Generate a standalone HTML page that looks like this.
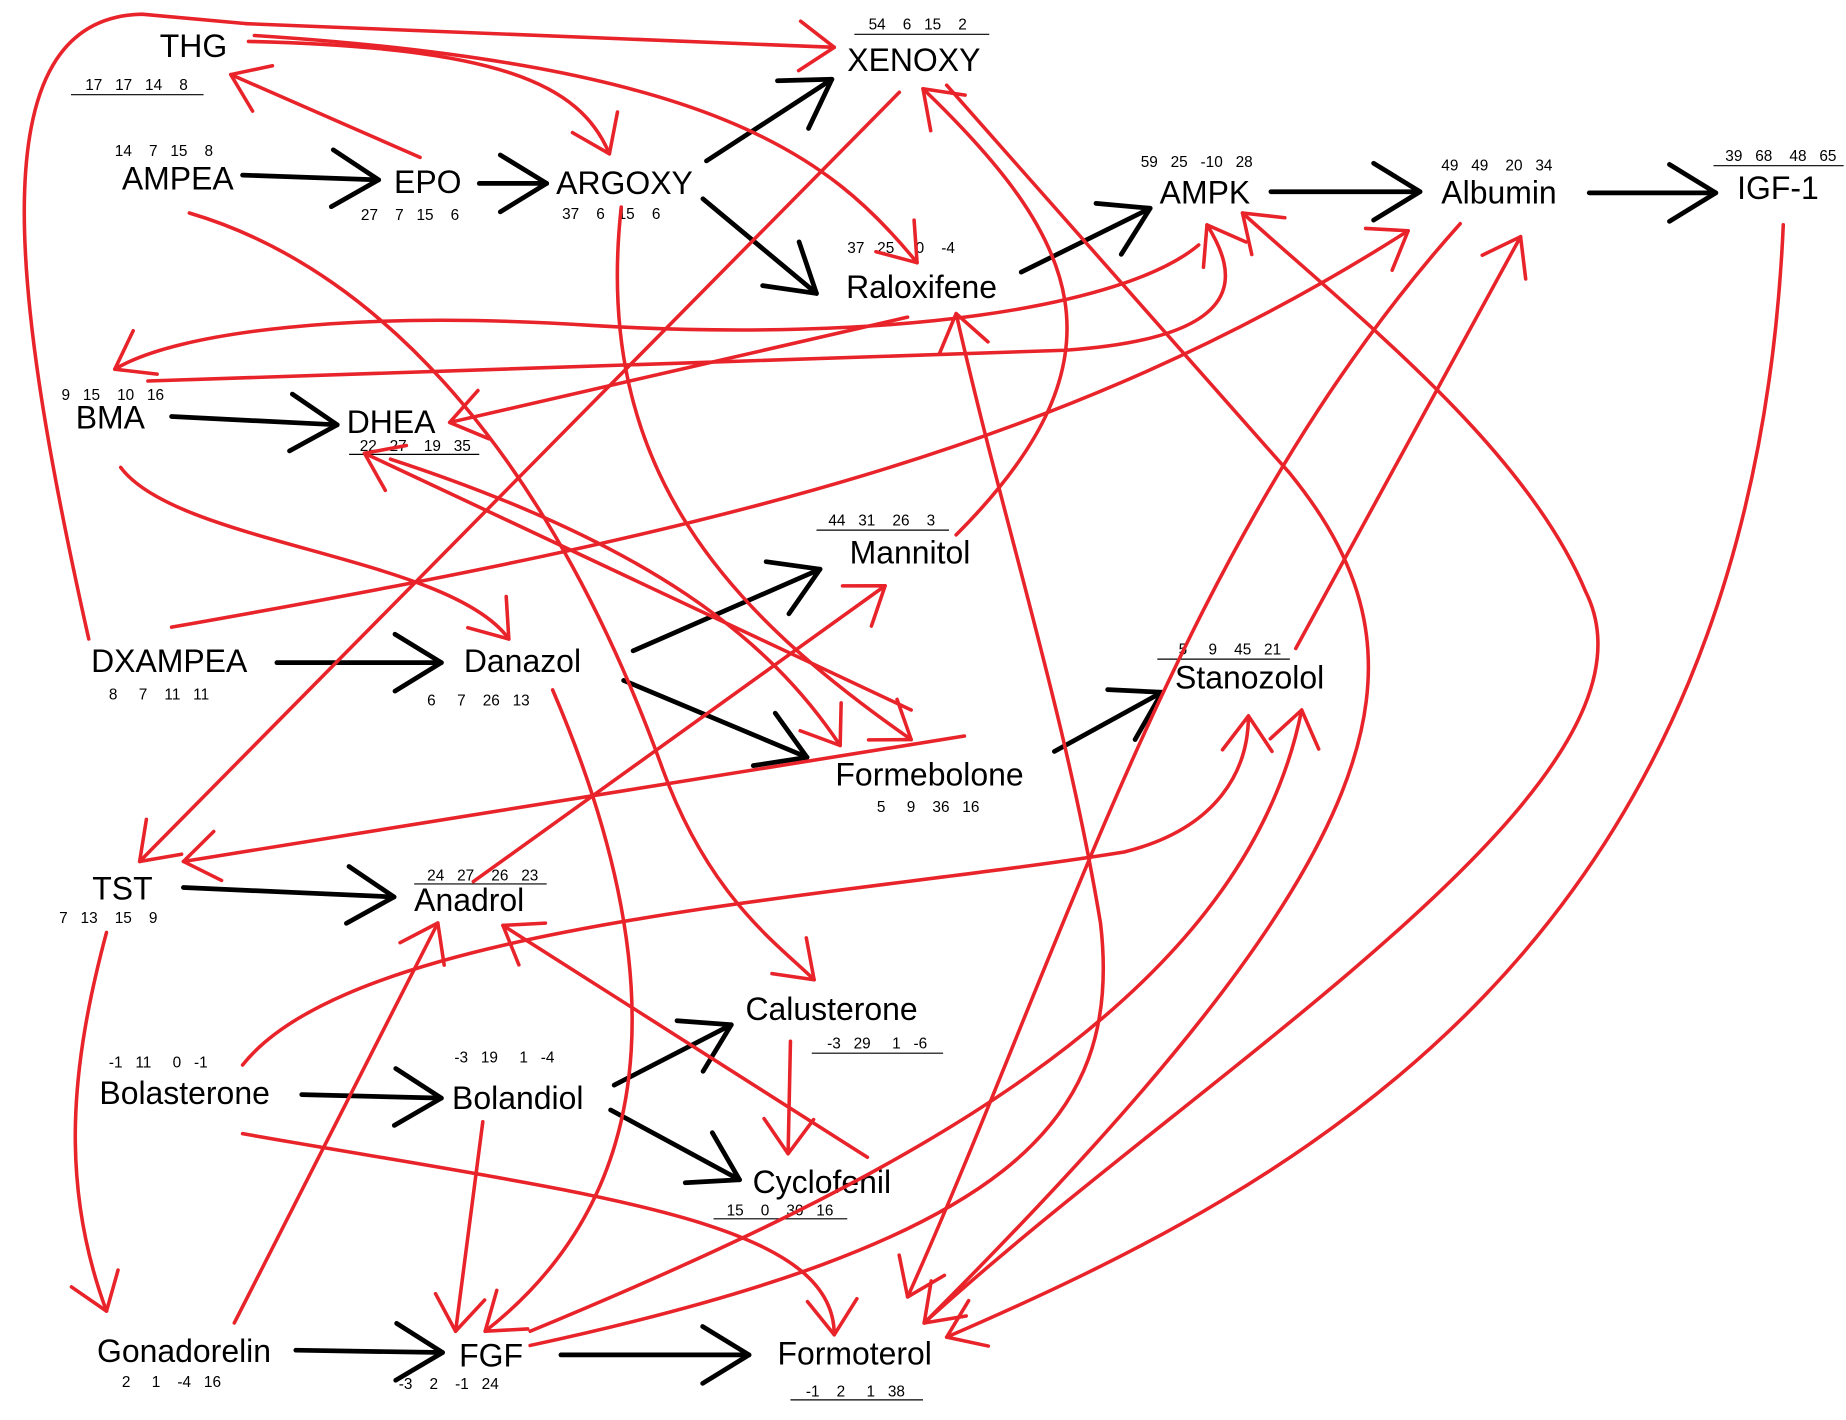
<!DOCTYPE html>
<html><head><meta charset="utf-8">
<style>
html,body{margin:0;padding:0;background:#fff;}
svg{display:block;}
.n{font-family:"Liberation Sans",sans-serif;font-size:27px;fill:#000;}
.s{font-family:"Liberation Sans",sans-serif;font-size:13px;fill:#000;}
.b{stroke:#000;stroke-width:4;fill:none;stroke-linecap:round;stroke-linejoin:round;}
.r{stroke:#e8232a;stroke-width:3;fill:none;stroke-linecap:round;stroke-linejoin:round;}
.u{stroke:#000;stroke-width:1;}
</style></head>
<body>
<svg id="g" width="1846" height="1420" viewBox="0 0 1560 1200" xmlns="http://www.w3.org/2000/svg">
<text class="n" x="135" y="48">THG</text>
<text class="s" x="72" y="76" xml:space="preserve">17   17   14    8</text><line class="u" x1="60" y1="80" x2="172" y2="80"/>
<text class="n" x="103" y="160">AMPEA</text>
<text class="s" x="97" y="132" xml:space="preserve">14    7   15    8</text>
<text class="n" x="333" y="163">EPO</text>
<text class="s" x="305" y="186" xml:space="preserve">27    7   15    6</text>
<text class="n" x="470" y="164">ARGOXY</text>
<text class="s" x="475" y="185" xml:space="preserve">37    6   15    6</text>
<text class="n" x="716" y="60">XENOXY</text>
<text class="s" x="734" y="25" xml:space="preserve">54    6   15    2</text><line class="u" x1="722" y1="29" x2="836" y2="29"/>
<text class="n" x="980" y="172">AMPK</text>
<text class="s" x="964" y="141" xml:space="preserve">59   25   -10   28</text>
<text class="n" x="1218" y="172">Albumin</text>
<text class="s" x="1218" y="144" xml:space="preserve">49   49    20   34</text>
<text class="n" x="1468" y="168">IGF-1</text>
<text class="s" x="1458" y="136" xml:space="preserve">39   68    48   65</text><line class="u" x1="1448" y1="140" x2="1558" y2="140"/>
<text class="n" x="715" y="252">Raloxifene</text>
<text class="s" x="716" y="214" xml:space="preserve">37   25     0    -4</text>
<text class="n" x="64" y="362">BMA</text>
<text class="s" x="52" y="338" xml:space="preserve">9   15    10   16</text>
<text class="n" x="293" y="366">DHEA</text>
<text class="s" x="304" y="381" xml:space="preserve">22   27    19   35</text><line class="u" x1="295" y1="384" x2="405" y2="384"/>
<text class="n" x="718" y="476">Mannitol</text>
<text class="s" x="700" y="444" xml:space="preserve">44   31    26    3</text><line class="u" x1="690" y1="448" x2="802" y2="448"/>
<text class="n" x="77" y="568">DXAMPEA</text>
<text class="s" x="92" y="591" xml:space="preserve">8     7    11   11</text>
<text class="n" x="392" y="568">Danazol</text>
<text class="s" x="361" y="596" xml:space="preserve">6     7    26   13</text>
<text class="n" x="993" y="582">Stanozolol</text>
<text class="s" x="996" y="553" xml:space="preserve">5     9    45   21</text><line class="u" x1="978" y1="557" x2="1090" y2="557"/>
<text class="n" x="706" y="664">Formebolone</text>
<text class="s" x="741" y="686" xml:space="preserve">5     9    36   16</text>
<text class="n" x="78" y="760">TST</text>
<text class="s" x="50" y="780" xml:space="preserve">7   13    15    9</text>
<text class="n" x="350" y="770">Anadrol</text>
<text class="s" x="361" y="744" xml:space="preserve">24   27    26   23</text><line class="u" x1="350" y1="747" x2="462" y2="747"/>
<text class="n" x="630" y="862">Calusterone</text>
<text class="s" x="699" y="886" xml:space="preserve">-3   29     1   -6</text><line class="u" x1="686" y1="890" x2="797" y2="890"/>
<text class="n" x="84" y="933">Bolasterone</text>
<text class="s" x="92" y="902" xml:space="preserve">-1   11     0   -1</text>
<text class="n" x="382" y="937">Bolandiol</text>
<text class="s" x="384" y="898" xml:space="preserve">-3   19     1   -4</text>
<text class="n" x="636" y="1008">Cyclofenil</text>
<text class="s" x="614" y="1027" xml:space="preserve">15    0    30   16</text><line class="u" x1="603" y1="1030" x2="716" y2="1030"/>
<text class="n" x="82" y="1151">Gonadorelin</text>
<text class="s" x="103" y="1172" xml:space="preserve">2     1    -4   16</text>
<text class="n" x="388" y="1155">FGF</text>
<text class="s" x="337" y="1174" xml:space="preserve">-3    2    -1   24</text>
<text class="n" x="657" y="1153">Formoterol</text>
<text class="s" x="681" y="1180" xml:space="preserve">-1    2     1   38</text><line class="u" x1="668" y1="1183" x2="780" y2="1183"/>
</svg>
<script>
(function(){
var svg=document.getElementById('g');var NS='http://www.w3.org/2000/svg';
function add(d,cls,head,ang){
 var p=document.createElementNS(NS,'path');p.setAttribute('d',d);p.setAttribute('class',cls);svg.appendChild(p);
 if(!head)return;
 var L=p.getTotalLength();var e=p.getPointAtLength(L);var q=p.getPointAtLength(Math.max(0,L-8));
 var a=Math.atan2(e.y-q.y,e.x-q.x);var len=head;
 var x1=e.x-len*Math.cos(a-ang),y1=e.y-len*Math.sin(a-ang),x2=e.x-len*Math.cos(a+ang),y2=e.y-len*Math.sin(a+ang);
 var h=document.createElementNS(NS,'path');h.setAttribute('d','M'+x1+','+y1+' L'+e.x+','+e.y+' L'+x2+','+y2);h.setAttribute('class',cls);svg.appendChild(h);
}
var B=[
'M205,148 L320,152','M405,155 L462,155','M597,136 L703,67','M594,168 L690,248','M863,230 L972,176',
'M1074,162 L1200,162','M1343,163 L1450,163','M145,352 L285,359','M234,560 L373,560','M535,550 L693,481',
'M527,575 L682,640','M891,635 L982,585','M155,750 L333,758','M255,925 L373,928','M519,917 L618,866',
'M516,938 L625,997','M250,1141 L374,1143','M474,1145 L633,1145'];
B.forEach(function(d){add(d,'b',46,0.55);});
var R=[
'M208,20 L705,40',
'M210,35 C420,40 490,70 515,130',
'M215,30 C600,55 700,130 775,222',
'M355,133 L195,63',
'M760,78 L118,728',
'M808,452 C960,300 910,200 780,75',
'M1234,189 C1000,450 900,800 767,1096',
'M800,72 L1090,400 C1220,560 1180,720 781,1118',
'M1507,190 C1480,800 1100,1000 800,1130',
'M781,1118 C1020,900 1420,660 1340,500 C1290,380 1150,270 1050,180',
'M1095,548 L1285,200',
'M145,530 C600,450 900,380 1190,195',
'M448,1125 C750,1000 1050,850 1100,600',
'M205,900 C300,780 700,760 950,720 C1030,700 1055,650 1055,605',
'M448,1137 C850,1050 950,950 930,780 C900,600 850,450 808,265',
'M125,322 L900,296 C1060,285 1045,230 1020,190',
'M1013,207 C950,260 750,290 500,275 C300,262 150,280 97,312',
'M767,268 L380,357',
'M102,395 C150,460 380,470 430,540',
'M160,180 C330,230 470,400 560,650 C600,760 660,800 688,828',
'M525,175 C500,400 620,520 770,625',
'M330,388 C550,460 650,540 710,630',
'M770,600 L308,383',
'M815,622 L155,728',
'M400,745 L748,495',
'M733,978 L425,782',
'M198,1118 L370,780',
'M668,880 L666,975',
'M205,958 C500,1010 705,1030 705,1128',
'M90,788 C60,900 50,1000 90,1108',
'M467,583 C560,800 570,1000 410,1125',
'M408,948 L385,1125'];
R.forEach(function(d){add(d,'r',36,0.62);});
add('M75,540 C10,250 -20,15 120,12 L208,20','r',0,0);
})();
</script>
</body></html>
